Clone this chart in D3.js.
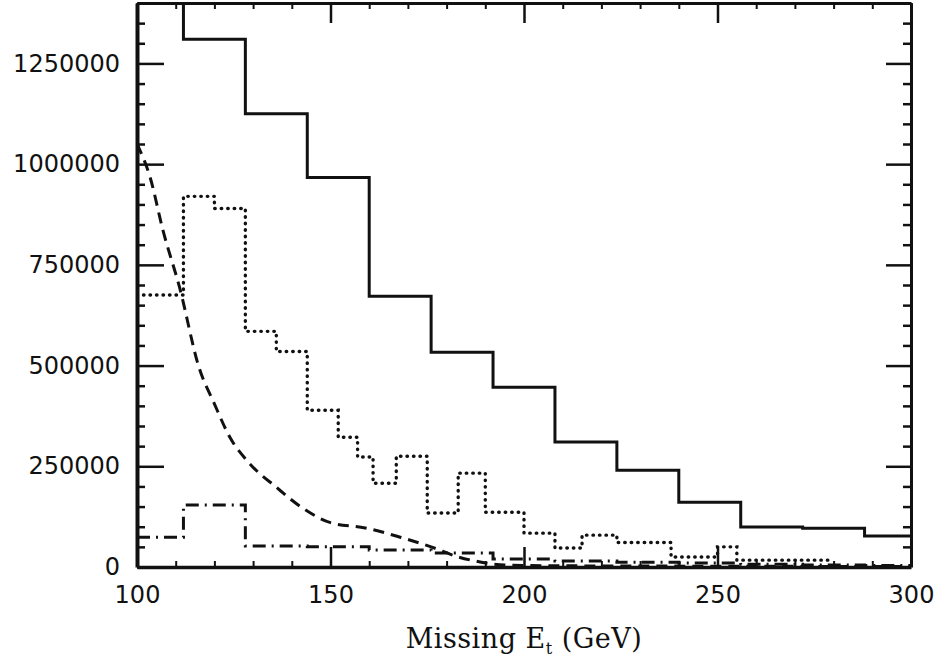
<!DOCTYPE html>
<html>
<head>
<meta charset="utf-8">
<script src="https://cdn.jsdelivr.net/npm/d3@7"></script>
<style>
  html, body { margin: 0; padding: 0; background: #fff; }
  svg { display: block; }
  .tick text { font-family: "DejaVu Sans", sans-serif; font-size: 24px; fill: #111; }
</style>
</head>
<body>
<svg id="chart" width="936" height="662"></svg>
<script>
// Missing transverse energy spectra (events per bin)
const xTicks = [100, 150, 200, 250, 300];
const yTicks = [0, 250000, 500000, 750000, 1000000, 1250000];

// solid histogram: 16 GeV bins (first bin runs off the top of the frame)
const solidEdges  = [100, 112, 128, 144, 160, 176, 192, 208, 224, 240, 256, 272, 288, 300];
const solidValues = [1500000, 1310000, 1125000, 967000, 672000, 533000, 446000, 310000, 240000, 161000, 99000, 96000, 77000];

// dotted histogram
const dotEdges  = [100, 112, 120, 128, 136, 144, 152, 157, 161, 167, 175, 183, 190, 200, 208, 215, 224, 238, 250, 255, 280];
const dotValues = [675000, 920000, 890000, 585000, 535000, 389000, 322000, 273000, 208000, 275000, 134000, 233000, 136000, 84000, 47000, 79000, 61000, 25000, 50000, 17000];

// dash-dotted histogram
const dashDotEdges  = [100, 112, 128, 144, 160, 176, 192, 208, 224, 240, 256, 272, 288, 300];
const dashDotValues = [74000, 154000, 52000, 50000, 42000, 35000, 20000, 15000, 12000, 10000, 7000, 5000, 4000];

// dashed smooth curve
const curveX = [100, 103.4, 106.7, 111, 116, 120, 124, 129, 136, 143, 150, 159, 168, 176, 183, 189, 195, 210, 250, 300];
const curveY = [1050000, 967000, 836000, 694000, 496000, 405000, 322000, 258000, 198000, 145000, 110000, 97000, 74000, 50000, 25000, 12000, 5000, 3000, 2000, 1000];

const margin = { top: 3, right: 25, bottom: 95, left: 137 };
const W = 936, H = 662;
const iw = W - margin.left - margin.right;
const ih = H - margin.top - margin.bottom;

const svg = d3.select("#chart");
const g = svg.append("g").attr("transform", `translate(${margin.left},${margin.top})`);

const x = d3.scaleLinear().domain([100, 300]).range([0, iw]);
const y = d3.scaleLinear().domain([0, 1400000]).range([ih, 0]);

g.append("clipPath").attr("id", "plot-clip")
  .append("rect").attr("x", 0).attr("y", 0).attr("width", iw).attr("height", ih);

const plot = g.append("g").attr("clip-path", "url(#plot-clip)");

function stepPoints(edges, values) {
  const pts = values.map((v, i) => [edges[i], v]);
  pts.push([edges[edges.length - 1], values[values.length - 1]]);
  return pts;
}

const stepLine = d3.line()
  .x(d => x(d[0]))
  .y(d => y(d[1]))
  .curve(d3.curveStepAfter);

const smoothLine = d3.line()
  .x(d => x(d[0]))
  .y(d => y(d[1]))
  .curve(d3.curveMonotoneX);

plot.append("path")
  .attr("d", stepLine(stepPoints(dashDotEdges, dashDotValues)))
  .attr("fill", "none").attr("stroke", "#111").attr("stroke-width", 3)
  .attr("stroke-dasharray", "13 6 2 6").attr("stroke-linecap", "butt");

plot.append("path")
  .attr("d", smoothLine(curveX.map((v, i) => [v, curveY[i]])))
  .attr("fill", "none").attr("stroke", "#111").attr("stroke-width", 3)
  .attr("stroke-dasharray", "11 7");

plot.append("path")
  .attr("d", stepLine(stepPoints(dotEdges, dotValues)))
  .attr("fill", "none").attr("stroke", "#111").attr("stroke-width", 3.4)
  .attr("stroke-dasharray", "0.5 6").attr("stroke-linecap", "round");

plot.append("path")
  .attr("d", stepLine(stepPoints(solidEdges, solidValues)))
  .attr("fill", "none").attr("stroke", "#111").attr("stroke-width", 3);

// axes: ticks point into the frame on all four sides
const yMinor = d3.range(0, 1400001, 50000).filter(v => v % 250000 !== 0);
const xMinor = d3.range(100, 301, 10).filter(v => v % 50 !== 0);

function styleAxis(sel, w) {
  sel.select(".domain").attr("stroke", "#111").attr("stroke-width", w);
  sel.selectAll(".tick line").attr("stroke", "#111").attr("stroke-width", 2.5);
}
function styleMinor(sel, w) {
  sel.select(".domain").remove();
  sel.selectAll(".tick line").attr("stroke", "#111").attr("stroke-width", w);
}

const leftAxis = g.append("g")
  .call(d3.axisLeft(y).tickValues(yTicks).tickSizeInner(-27).tickSizeOuter(0).tickPadding(17).tickFormat(d3.format("d")));
styleAxis(leftAxis, 4);
g.append("g").call(d3.axisLeft(y).tickValues(yMinor).tickSize(-8).tickFormat(""))
  .call(styleMinor, 2.5);

const rightAxis = g.append("g").attr("transform", `translate(${iw},0)`)
  .call(d3.axisRight(y).tickValues(yTicks).tickSizeInner(-25).tickSizeOuter(0).tickFormat(""));
styleAxis(rightAxis, 3);
g.append("g").attr("transform", `translate(${iw},0)`)
  .call(d3.axisRight(y).tickValues(yMinor).tickSize(-8).tickFormat(""))
  .call(styleMinor, 2.5);

const bottomAxis = g.append("g").attr("transform", `translate(0,${ih})`)
  .call(d3.axisBottom(x).tickValues(xTicks).tickSizeInner(-20).tickSizeOuter(0).tickPadding(19).tickFormat(d3.format("d")));
styleAxis(bottomAxis, 3.5);
g.append("g").attr("transform", `translate(0,${ih})`)
  .call(d3.axisBottom(x).tickValues(xMinor).tickSize(-6).tickFormat(""))
  .call(styleMinor, 2);

const topAxis = g.append("g")
  .call(d3.axisTop(x).tickValues(xTicks).tickSizeInner(-20).tickSizeOuter(0).tickFormat(""));
styleAxis(topAxis, 3);
g.append("g")
  .call(d3.axisTop(x).tickValues(xMinor).tickSize(-6).tickFormat(""))
  .call(styleMinor, 2);

// x-axis title
const title = svg.append("text")
  .attr("x", margin.left + iw / 2)
  .attr("y", 648)
  .attr("text-anchor", "middle")
  .attr("font-family", "'DejaVu Serif', serif")
  .attr("font-size", 27)
  .attr("letter-spacing", 0.5)
  .attr("fill", "#111");
title.append("tspan").text("Missing E");
title.append("tspan").attr("font-size", 16).attr("dy", 6).text("t");
title.append("tspan").attr("dy", -6).text(" (GeV)");
</script>
</body>
</html>
